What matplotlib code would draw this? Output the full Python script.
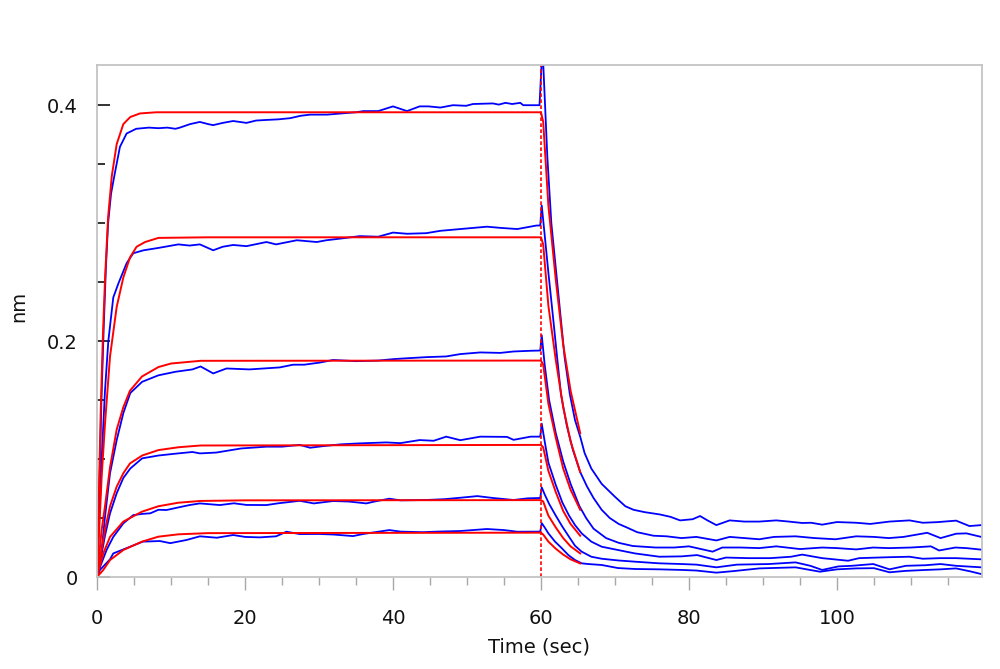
import matplotlib

matplotlib.use("Agg")
import matplotlib.pyplot as plt  # noqa: E402
from matplotlib.ticker import FuncFormatter, MultipleLocator  # noqa: E402

# measured traces (blue), t in sec, response in nm
blue1_t = [0, 0.3, 0.6, 0.9, 1.2, 1.5, 1.9, 2.4, 3.1, 4.0, 5.3, 7, 8.3, 9.5, 10.6, 11.2,
           12.6, 13.9, 15, 15.7, 17, 18.4, 20.2, 21.5, 22.9, 24.5, 26.1, 27.5, 28.8, 31.1,
           33, 35, 36, 38, 39, 40, 41.9, 43.6, 44.8, 46.4, 48.1, 49.9, 50.8, 53.5, 54.3,
           55.2, 56.1, 57.2, 57.6, 59.8,
           60.2, 60.86, 61.4, 62.3, 63.2, 63.9, 64.6, 65.3, 65.9, 66.8, 68.2, 70, 71.4,
           72.5, 74, 76.1, 77.5, 78.8, 80.5, 81.5, 82.5, 83.7, 85.5, 87.5, 89.5, 91.8,
           93.5, 95.3, 96.5, 98, 100, 102.6, 104.5, 107.1, 109.8, 111.6, 113.5, 116.1,
           117.9, 119.5]
blue1_nm = [0, 0.07, 0.15, 0.21, 0.262, 0.300, 0.325, 0.342, 0.3647, 0.376, 0.380, 0.381,
            0.3805, 0.381, 0.380, 0.381, 0.384, 0.3858, 0.384, 0.3831, 0.385, 0.3866, 0.385,
            0.387, 0.3875, 0.388, 0.389, 0.391, 0.392, 0.392, 0.393, 0.394, 0.395, 0.395,
            0.397, 0.399, 0.395, 0.399, 0.399, 0.398, 0.400, 0.3995, 0.401, 0.4015, 0.4005,
            0.402, 0.401, 0.402, 0.400, 0.400,
            0.45, 0.356, 0.30, 0.243, 0.186, 0.155, 0.133, 0.119, 0.105, 0.092, 0.079,
            0.068, 0.060, 0.057, 0.055, 0.053, 0.051, 0.048, 0.049, 0.0517, 0.048, 0.044,
            0.048, 0.047, 0.047, 0.048, 0.047, 0.0458, 0.046, 0.0444, 0.0466, 0.046, 0.045,
            0.047, 0.048, 0.046, 0.0465, 0.0478, 0.0432, 0.044]

blue2_t = [0, 0.3, 0.63, 1.08, 1.53, 2.2, 2.9, 4.0, 4.9, 6.3, 8.3, 11, 12.5, 13.9, 15.7,
           17, 18.4, 20.2, 22.9, 24.2, 27, 29.7, 31, 33, 35.5, 38, 40, 41.9, 44.5, 46.4,
           49.1, 52.7, 54.5, 56.8, 59.4, 59.9,
           60.1, 60.5, 61, 61.6, 62.2, 62.7, 63.5, 64.3, 65.3, 66.2, 67.1, 68.2, 69.3,
           70.5, 71.6, 73, 75.2, 77, 79, 81, 83.7, 85.5, 87.5, 89.5, 91.5, 94.4, 97, 99.8,
           102.6, 105, 107, 109, 112.2, 114, 116.1, 117.5, 119.5]
blue2_nm = [0, 0.05, 0.10, 0.158, 0.200, 0.237, 0.249, 0.266, 0.2745, 0.277, 0.279, 0.282,
            0.281, 0.282, 0.277, 0.280, 0.2815, 0.2805, 0.284, 0.282, 0.2855, 0.284, 0.2855,
            0.287, 0.289, 0.2885, 0.292, 0.291, 0.2915, 0.2935, 0.295, 0.297, 0.296, 0.295,
            0.298, 0.298,
            0.315, 0.29, 0.258, 0.222, 0.185, 0.155, 0.128, 0.108, 0.089, 0.077, 0.067,
            0.057, 0.050, 0.045, 0.042, 0.038, 0.035, 0.0345, 0.033, 0.034, 0.031, 0.034,
            0.033, 0.032, 0.034, 0.0345, 0.033, 0.032, 0.0345, 0.034, 0.033, 0.034, 0.0375,
            0.033, 0.0367, 0.037, 0.034]

blue3_t = [0, 0.3, 0.63, 1.08, 1.76, 2.66, 3.56, 4.5, 6.1, 8.3, 10.6, 12.9, 14, 15.7,
           17.5, 20.6, 24.7, 26.5, 28, 30.1, 31.9, 35, 38, 40, 42, 44.5, 47.2, 49.1, 51.8,
           54.5, 56.3, 58.6, 59.9,
           60.1, 60.5, 61.1, 62, 63, 64, 65.2, 66.1, 67.1, 68.8, 70.5, 72.4, 75.5, 78, 80,
           83.2, 84.5, 87, 89.5, 91.8, 95, 98, 100, 102.6, 104.9, 107, 110, 112.7, 113.8,
           116, 117.5, 119.5]
blue3_nm = [0, 0.01, 0.023, 0.051, 0.088, 0.116, 0.139, 0.156, 0.1655, 0.171, 0.174, 0.176,
            0.1785, 0.1726, 0.1768, 0.176, 0.1777, 0.180, 0.180, 0.1818, 0.184, 0.183,
            0.1835, 0.1847, 0.1855, 0.1864, 0.187, 0.189, 0.1904, 0.190, 0.1912, 0.1918,
            0.192,
            0.205, 0.18, 0.150, 0.122, 0.098, 0.079, 0.060, 0.050, 0.041, 0.033, 0.029,
            0.0263, 0.025, 0.025, 0.026, 0.0215, 0.025, 0.025, 0.0245, 0.026, 0.0237,
            0.025, 0.0245, 0.0234, 0.025, 0.0245, 0.025, 0.026, 0.0225, 0.025, 0.0245,
            0.0232]

blue4_t = [0, 0.4, 1.08, 1.76, 2.66, 3.56, 4.5, 6.1, 8.3, 10.5, 12.9, 13.9, 16.1, 19.5,
           22.9, 25, 27.4, 28.8, 30.6, 33, 35.5, 39.1, 41, 43.6, 45.5, 47.2, 49.1, 51.8,
           55.4, 56.3, 58.6, 59.9,
           60.1, 60.5, 61, 62, 62.9, 63.8, 64.6, 65.5, 66.8, 68.2, 70.4, 72.7, 76, 79,
           81.1, 83.7, 85, 88, 91, 93.8, 95.3, 98, 101.5, 103, 107.1, 109.8, 111.6, 114,
           116.1, 119.5]
blue4_nm = [0, 0.012, 0.035, 0.054, 0.071, 0.084, 0.092, 0.1006, 0.103, 0.1045, 0.106,
            0.1048, 0.1055, 0.109, 0.1105, 0.1105, 0.112, 0.1096, 0.111, 0.1125, 0.1133,
            0.1141, 0.1135, 0.1161, 0.1155, 0.119, 0.116, 0.119, 0.1188, 0.1163, 0.119,
            0.119,
            0.130, 0.115, 0.097, 0.078, 0.063, 0.052, 0.044, 0.037, 0.030, 0.0257, 0.0229,
            0.020, 0.0172, 0.0175, 0.0186, 0.0144, 0.0165, 0.016, 0.016, 0.0172, 0.019,
            0.016, 0.0138, 0.016, 0.0168, 0.0172, 0.0155, 0.016, 0.016, 0.015]

blue5_t = [0, 0.5, 1.3, 2.2, 3.56, 4.9, 6.1, 7.2, 8.3, 9.4, 11, 12.5, 13.9, 16.6, 18.5,
           20.2, 22.9, 24.5, 27.4, 29.3, 31.9, 34, 36.4, 37.5, 39.5, 41, 44.5, 47, 49.1,
           51.4, 53.5, 56.3, 58.2, 59.9,
           60.1, 60.5, 61.1, 62, 62.9, 63.8, 64.6, 65.5, 66.8, 68.2, 70.5, 72.7, 76, 79,
           81, 83.7, 86.5, 90.8, 94.4, 96.4, 98, 100.2, 102, 104.9, 107.1, 109.3, 112, 114,
           116.1, 119.5]
blue5_nm = [0, 0.010, 0.023, 0.034, 0.0455, 0.0525, 0.0535, 0.054, 0.057, 0.0568, 0.059,
            0.061, 0.0624, 0.0610, 0.0625, 0.0611, 0.061, 0.0625, 0.0646, 0.0624, 0.0644,
            0.064, 0.0624, 0.064, 0.0664, 0.065, 0.0653, 0.066, 0.0672, 0.0686, 0.067,
            0.0653, 0.0667, 0.067,
            0.076, 0.070, 0.062, 0.052, 0.0426, 0.034, 0.0265, 0.0215, 0.0172, 0.0155,
            0.014, 0.013, 0.0116, 0.011, 0.0105, 0.0082, 0.0105, 0.011, 0.0124, 0.0095,
            0.006, 0.009, 0.0095, 0.011, 0.0065, 0.0095, 0.010, 0.011, 0.0095, 0.0082]

blue6_t = [0, 0.4, 1.76, 2.2, 4.0, 6.2, 8.5, 9.9, 12.1, 13.9, 16.2, 18.4, 20, 22, 24.2,
           25.6, 27.4, 30, 32, 34.6, 36, 39.5, 41, 44, 46, 49.1, 52.7, 55, 56.8, 59.9,
           60.1, 60.5, 61, 61.9, 62.8, 63.7, 64.6, 65.5, 66.4, 68.2, 70.4, 72.7, 76, 79,
           81, 83.7, 86, 89.5, 94.4, 97.7, 100, 102.6, 105, 107.1, 109.3, 112, 114, 116.1,
           118, 119.5]
blue6_nm = [0, 0.006, 0.015, 0.020, 0.0245, 0.030, 0.0305, 0.0287, 0.0314, 0.0345, 0.0333,
            0.0356, 0.034, 0.0336, 0.0345, 0.0384, 0.0364, 0.0365, 0.036, 0.0347, 0.0365,
            0.0398, 0.0385, 0.038, 0.0385, 0.0390, 0.0407, 0.0398, 0.0384, 0.0385,
            0.0457, 0.042, 0.037, 0.030, 0.0245, 0.0186, 0.0144, 0.0116, 0.011, 0.0102,
            0.0076, 0.0068, 0.0065, 0.006, 0.0055, 0.0037, 0.005, 0.0073, 0.0082, 0.0045,
            0.0065, 0.0073, 0.0075, 0.004, 0.0052, 0.006, 0.0065, 0.0073, 0.0048, 0.0025]

# 1:1 fit curves (red)
red1_t = [0, 0.5, 0.8, 1.1, 1.5, 2.0, 2.66, 3.56, 4.5, 5.8, 8, 60, 60.3, 61, 62, 63, 64, 65.3]
red1_nm = [0, 0.14, 0.205, 0.255, 0.305, 0.340, 0.367, 0.384, 0.390, 0.393, 0.394, 0.394,
           0.386, 0.315, 0.252, 0.197, 0.158, 0.122]
red2_t = [0, 0.63, 1.08, 1.76, 2.66, 3.56, 4.46, 5.35, 6.5, 8.3, 15, 60, 60.3, 61, 62, 63,
          64, 65.3]
red2_nm = [0, 0.085, 0.130, 0.187, 0.229, 0.254, 0.271, 0.280, 0.284, 0.2875, 0.288, 0.288,
           0.282, 0.230, 0.184, 0.144, 0.115, 0.089]
red3_t = [0, 0.63, 1.08, 1.76, 2.66, 3.56, 4.46, 6.08, 8.3, 10, 14, 60, 60.3, 61, 62, 63,
          64, 65.3]
red3_nm = [0, 0.040, 0.060, 0.093, 0.125, 0.144, 0.158, 0.170, 0.178, 0.181, 0.1833, 0.1835,
           0.180, 0.147, 0.118, 0.092, 0.074, 0.057]
red4_t = [0, 0.63, 1.08, 1.76, 2.66, 3.56, 4.46, 6.1, 8.3, 11, 14, 60, 60.3, 61, 62, 63,
          64, 65.3]
red4_nm = [0, 0.023, 0.040, 0.060, 0.0766, 0.088, 0.0963, 0.103, 0.1076, 0.110, 0.1115,
           0.112, 0.110, 0.090, 0.072, 0.056, 0.045, 0.035]
red5_t = [0, 0.85, 1.76, 3.56, 6.08, 8.3, 11, 14, 20, 60, 60.3, 61, 62, 63, 64, 65.3]
red5_nm = [0, 0.020, 0.034, 0.047, 0.0554, 0.060, 0.063, 0.0645, 0.065, 0.0652, 0.064,
           0.052, 0.042, 0.033, 0.026, 0.020]
red6_t = [0, 0.85, 1.76, 3.56, 6.08, 8.3, 11, 15, 60, 60.3, 61, 62, 63, 64, 65.3]
red6_nm = [0, 0.006, 0.0144, 0.0229, 0.030, 0.0342, 0.0362, 0.0372, 0.0376, 0.036, 0.030,
           0.024, 0.019, 0.015, 0.0115]

switch_t = 60  # association -> dissociation

blue_traces = [(blue1_t, blue1_nm), (blue2_t, blue2_nm), (blue3_t, blue3_nm),
               (blue4_t, blue4_nm), (blue5_t, blue5_nm), (blue6_t, blue6_nm)]
red_traces = [(red1_t, red1_nm), (red2_t, red2_nm), (red3_t, red3_nm),
              (red4_t, red4_nm), (red5_t, red5_nm), (red6_t, red6_nm)]

plt.rcParams["font.family"] = ["DejaVu Sans"]

fig = plt.figure(figsize=(10, 6.69), dpi=100)
ax = fig.add_axes([0.097, 0.1375, 0.885, 0.7652])

for t, v in blue_traces:
    ax.plot(t, v, color="#0000ff", lw=1.3)
for t, v in red_traces:
    ax.plot(t, v, color="#ff0000", lw=1.4)
ax.axvline(switch_t, color="#ff0000", lw=1.2, ls=(0, (2.2, 1.4)))

ax.set_xlim(0, 119.6)
ax.set_ylim(0, 0.434)

ax.xaxis.set_major_locator(MultipleLocator(20))
ax.xaxis.set_minor_locator(MultipleLocator(5))
ax.yaxis.set_major_locator(MultipleLocator(0.2))
ax.yaxis.set_minor_locator(MultipleLocator(0.05))
ax.yaxis.set_major_formatter(FuncFormatter(lambda v, _: f"{v:g}"))

ax.tick_params(axis="x", which="major", direction="out", length=9.5, width=1,
               color="#a8a8a8", pad=13.5, labelsize=14, labelcolor="#111111")
ax.tick_params(axis="x", which="minor", direction="out", length=5.5, width=1,
               color="#a8a8a8")
ax.tick_params(axis="y", which="major", direction="in", length=9.5, width=1.2,
               color="#111111", pad=14, labelsize=14, labelcolor="#111111")
ax.tick_params(axis="y", which="minor", direction="in", length=5.5, width=1.2,
               color="#111111")

for side in ("left", "right", "top", "bottom"):
    ax.spines[side].set_color("#c4c4c4")
    ax.spines[side].set_linewidth(1.3)

ax.set_xlabel("Time (sec)", fontsize=14, color="#111111", labelpad=7)
fig.text(0.019, 0.542, "nm", rotation=90, fontsize=14, color="#111111",
         ha="center", va="center")

fig.savefig("out.png", dpi=100)
plt.close(fig)
